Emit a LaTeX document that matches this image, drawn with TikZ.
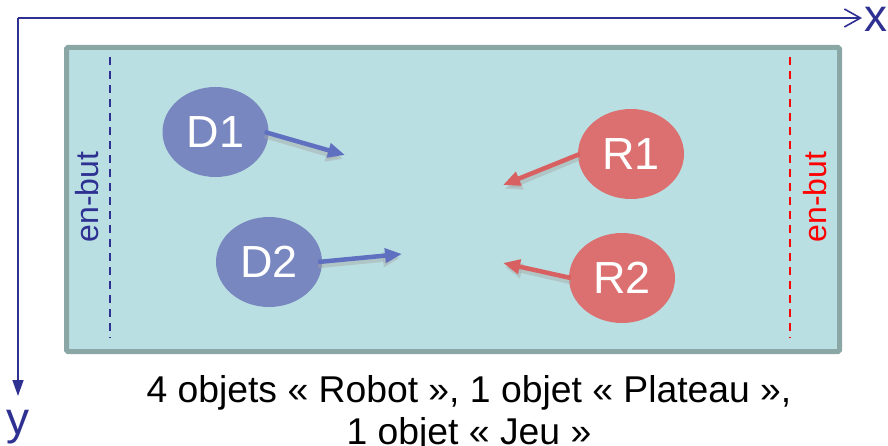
\documentclass[tikz,border=0pt]{standalone}
\usepackage{fontspec}
\setmainfont{Liberation Sans}
\usetikzlibrary{arrows.meta,shapes.geometric}
\definecolor{axisblue}{HTML}{2E3192}
\definecolor{boardfill}{HTML}{B9DFE2}
\definecolor{boardedge}{HTML}{8AA6A5}
\definecolor{dblue}{HTML}{7887BF}
\definecolor{rred}{HTML}{DC7070}
\definecolor{darrow}{HTML}{6070C0}
\definecolor{rarrow}{HTML}{D86060}
\tikzset{
  robotD/.style={ellipse, fill=dblue, minimum width=106pt, minimum height=90pt, inner sep=0pt, text=white, font=\fontsize{45}{45}\selectfont},
  robotR/.style={ellipse, fill=rred, minimum width=106pt, minimum height=90pt, inner sep=0pt, text=white, font=\fontsize{45}{45}\selectfont},
  movearrowD/.style={draw=darrow, line width=4.5pt, -{Triangle[length=17pt,width=14pt]}},
  movearrowR/.style={draw=rarrow, line width=4.5pt, -{Triangle[length=17pt,width=14pt]}},
  shadowarrow/.style={draw=gray!70, opacity=0.45, line width=4.5pt, -{Triangle[length=17pt,width=14pt]}},
  goalline/.style={dashed, line width=1.5pt, dash pattern=on 8pt off 6pt},
  goaltext/.style={rotate=90, font=\fontsize{32}{32}\selectfont}
}
\begin{document}
\begin{tikzpicture}[x=1pt,y=-1pt]
\useasboundingbox (0,0) rectangle (888,446);
% axes
\coordinate (O) at (18,18);
\coordinate (X) at (862,18);
\coordinate (Y) at (18,396);
\draw[axisblue, line width=1.6pt, -{Straight Barb[length=16pt,width=18pt,line width=1.6pt]}] (O) -- (X);
\draw[axisblue, line width=1.6pt, -{Triangle[length=16pt,width=11pt]}] (O) -- (Y);
\node[text=axisblue, font=\fontsize{46}{46}\selectfont, anchor=base west, inner sep=0pt] (xl) at (864,32) {x};
\node[text=axisblue, font=\fontsize{46}{46}\selectfont, anchor=base, inner sep=0pt] (yl) at (18,434) {y};
% board
\node[draw=boardedge, fill=boardfill, line width=5pt, rounded corners=1.5pt, minimum width=773pt, minimum height=304pt, anchor=north west, inner sep=0pt] (board) at (64,45) {};
% goal lines
\coordinate (bl1) at (110,57); \coordinate (bl2) at (110,338);
\coordinate (rl1) at (790,57); \coordinate (rl2) at (790,338);
\draw[goalline, draw=axisblue] (bl1) -- (bl2);
\draw[goalline, draw=red] (rl1) -- (rl2);
\node[goaltext, text=axisblue] (eb1) at (87,197) {en-but};
\node[goaltext, text=red] (eb2) at (815,197) {en-but};
% robots
\node[robotD] (D1) at (215.5,132) {D1};
\node[robotD] (D2) at (269,262) {D2};
\node[robotR] (R1) at (631,154) {R1};
\node[robotR] (R2) at (622,278) {R2};
% targets
\coordinate (tD1) at (345,155);
\coordinate (tD2) at (402,254);
\coordinate (tR1) at (503,185);
\coordinate (tR2) at (503,263);
\coordinate (tD1s) at (343,159);
\coordinate (tD2s) at (400,258);
\coordinate (tR1s) at (505,189);
\coordinate (tR2s) at (505,267);
% shadows
\draw[shadowarrow] ([shift={(-4,4)}]D1.east) -- (tD1s);
\draw[shadowarrow] ([shift={(-4,4)}]D2.east) -- (tD2s);
\draw[shadowarrow] ([shift={(2,4)}]R1.west) -- (tR1s);
\draw[shadowarrow] ([shift={(2,4)}]R2.west) -- (tR2s);
% arrows
\draw[movearrowD] ([xshift=-4pt]D1.east) -- (tD1);
\draw[movearrowD] ([xshift=-4pt]D2.east) -- (tD2);
\draw[movearrowR] ([xshift=2pt]R1.west) -- (tR1);
\draw[movearrowR] ([xshift=2pt]R2.west) -- (tR2);
% caption
\node[font=\fontsize{37.3}{37.3}\selectfont, anchor=base, inner sep=0pt] (cap1) at (469,402) {4 objets « Robot », 1 objet « Plateau »,};
\node[font=\fontsize{37.3}{37.3}\selectfont, anchor=base, inner sep=0pt] (cap2) at (469,444) {1 objet « Jeu »};
\end{tikzpicture}
\end{document}
